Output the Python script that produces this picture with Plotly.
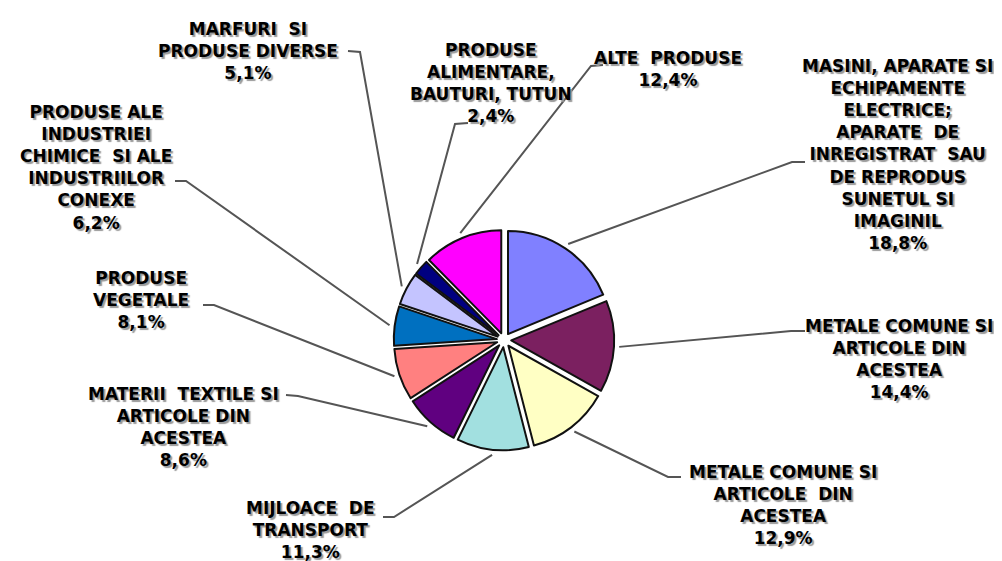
import math
import plotly.graph_objects as go

W, H = 1002, 561

# ---- data ----
categories = [
    "MASINI, APARATE SI<br>ECHIPAMENTE<br>ELECTRICE;<br>APARATE  DE<br>INREGISTRAT  SAU<br>DE REPRODUS<br>SUNETUL SI<br>IMAGINIL",
    "METALE COMUNE SI<br>ARTICOLE DIN<br>ACESTEA",
    "METALE COMUNE SI<br>ARTICOLE  DIN<br>ACESTEA",
    "MIJLOACE  DE<br>TRANSPORT",
    "MATERII  TEXTILE SI<br>ARTICOLE DIN<br>ACESTEA",
    "PRODUSE<br>VEGETALE",
    "PRODUSE ALE<br>INDUSTRIEI<br>CHIMICE  SI ALE<br>INDUSTRIILOR<br>CONEXE",
    "MARFURI  SI<br>PRODUSE DIVERSE",
    "PRODUSE<br>ALIMENTARE,<br>BAUTURI, TUTUN",
    "ALTE  PRODUSE",
]
values = [18.8, 14.4, 12.9, 11.3, 8.6, 8.1, 6.2, 5.1, 2.4, 12.4]
colors = ["#8080FF", "#7B2060", "#FFFFC4", "#A2E0E0", "#600080",
          "#FF8080", "#0070C0", "#C4C4FF", "#000080", "#FF00FF"]

# ---- layout (pixel positions) ----
pie_cx, pie_cy, pie_r = 496, 332, 103
pull = 0.07
# label block centres
label_pos = [(889, 147), (891, 351), (775, 497), (302, 522), (175, 419),
             (133, 292), (88, 160), (240, 43), (483, 75), (660, 61)]
# leader lines: text-side point and elbow point
leader_text = [(797, 154), (797, 323), (673, 469), (375, 509), (278, 387),
               (195, 297), (167, 173), (340, 43), (460, 115), (595, 57)]
leader_elbow = [(784, 154), (783, 323), (660, 469), (386, 509), (290, 388),
                (206, 297), (178, 173), (352, 44), (447, 116), (583, 58)]


def px(x):
    return x / W


def py(y):
    return 1 - y / H


pcts = [f"{v:.1f}".replace(".", ",") + "%" for v in values]
half = pie_r * (1 + pull)
fig = go.Figure(go.Pie(
    values=values,
    labels=[f"{c.replace('<br>', ' ')} ({p})" for c, p in zip(categories, pcts)],
    sort=False,
    direction="clockwise",
    rotation=0,
    pull=pull,
    textinfo="none",
    marker=dict(colors=colors, line=dict(color="#111111", width=2)),
    domain=dict(x=[px(pie_cx - half), px(pie_cx + half)],
                y=[py(pie_cy + half), py(pie_cy - half)]),
    showlegend=False,
))

total = sum(values)
cum = 0.0
shapes = []
annotations = []
for i, v in enumerate(values):
    mid = (cum + v / 2) / total * 2 * math.pi
    cum += v
    re = pie_r * (1 + pull) - 2
    # pulled slice centre offset
    ex = pie_cx + (re + pie_r * pull) * math.sin(mid)
    ey = pie_cy - (re + pie_r * pull) * math.cos(mid)
    (tx, ty), (bx, by) = leader_text[i], leader_elbow[i]
    path = f"M {px(tx)} {py(ty)} L {px(bx)} {py(by)} L {px(ex)} {py(ey)}"
    shapes.append(dict(type="path", path=path, xref="paper", yref="paper",
                       line=dict(color="#555555", width=2), layer="below"))
    lx, ly = label_pos[i]
    annotations.append(dict(
        x=px(lx), y=py(ly), xref="paper", yref="paper",
        text=categories[i] + "<br>" + pcts[i], showarrow=False,
        xanchor="center", yanchor="middle", align="center",
        font=dict(family="DejaVu Sans", size=17, color="black",
                  weight="bold", shadow="2px 2px 1px #999999"),
    ))

fig.update_layout(
    width=W, height=H,
    margin=dict(l=0, r=0, t=0, b=0),
    paper_bgcolor="white", plot_bgcolor="white",
    shapes=shapes, annotations=annotations,
)
fig.write_html("out.html")
